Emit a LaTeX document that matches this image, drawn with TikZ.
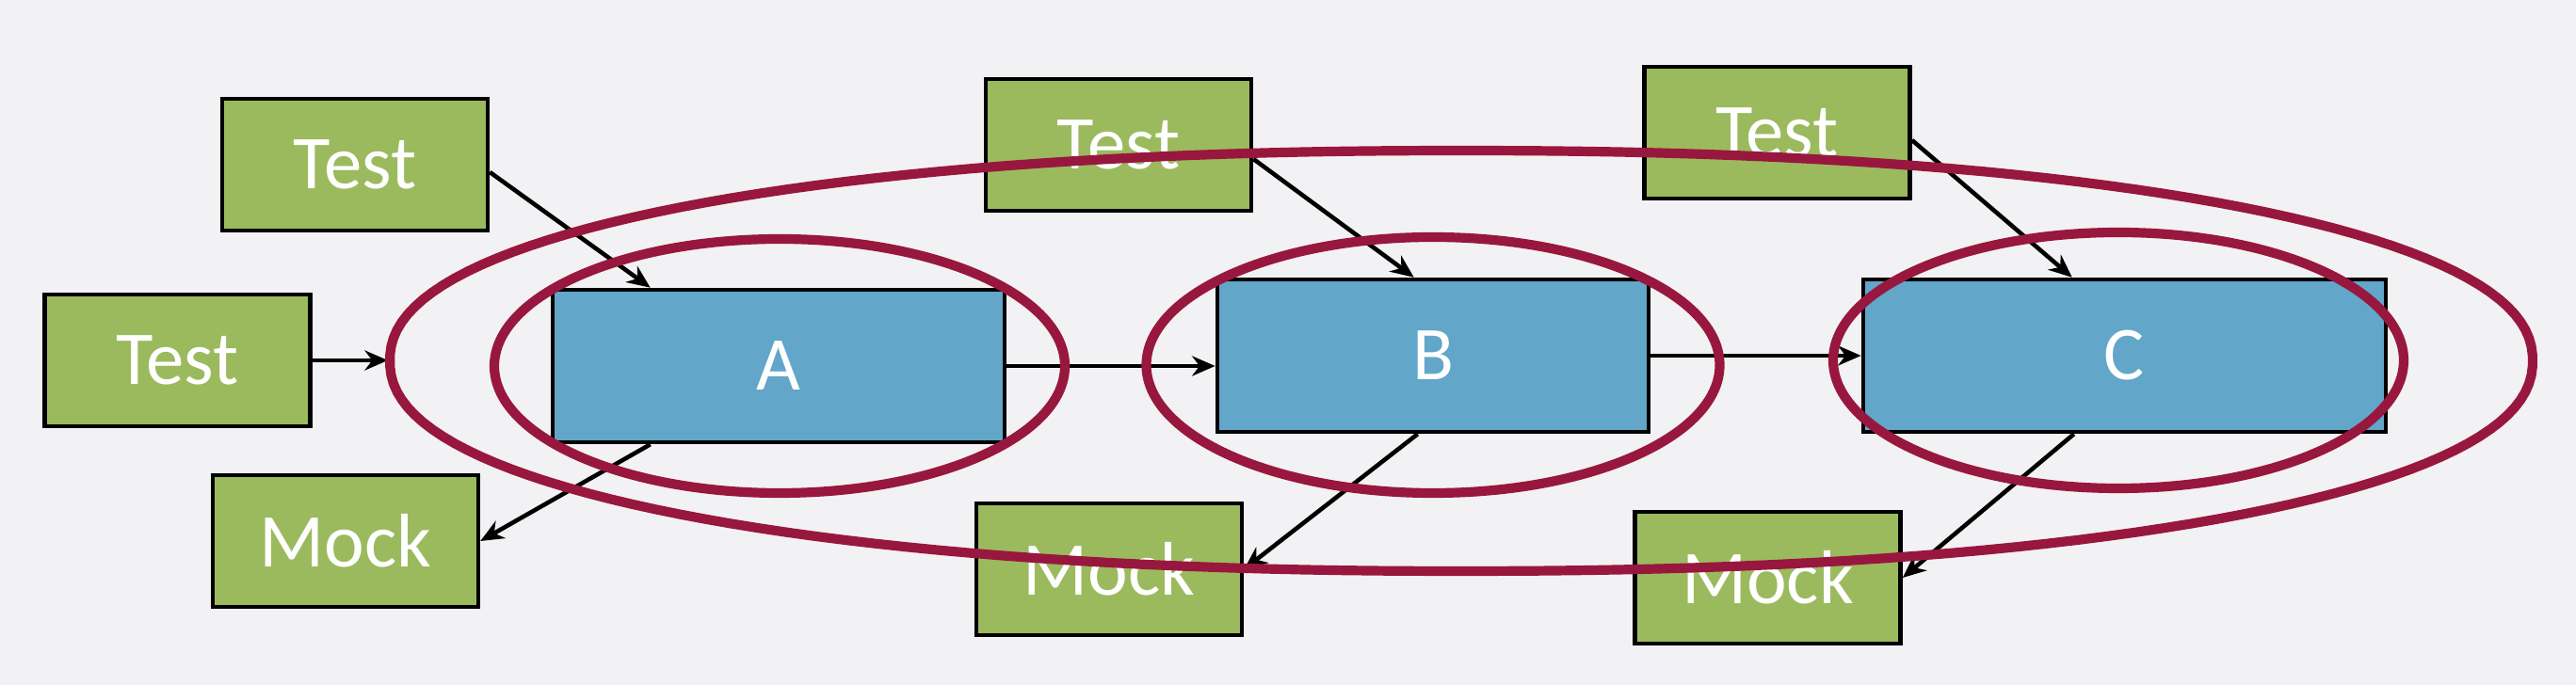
\documentclass[tikz,border=0pt]{standalone}
\usepackage{fontspec}
\setmainfont{Carlito}
\usetikzlibrary{shapes.geometric,arrows.meta}
\definecolor{slidebg}{HTML}{F2F1F3}
\definecolor{testgreen}{HTML}{9BBA5E}
\definecolor{unitblue}{HTML}{62A6C9}
\definecolor{penred}{HTML}{98173F}

\begin{document}
\begin{tikzpicture}[x=1cm,y=1cm,>={Stealth[length=7pt,width=6pt]},
  greenbox/.style={draw,line width=1.3pt,fill=testgreen,minimum width=2.82cm,minimum height=1.4cm,inner sep=0pt,text=white,font=\fontsize{23}{27}\selectfont},
  bluebox/.style={draw,line width=1.3pt,fill=unitblue,minimum height=1.62cm,inner sep=0pt,text=white,font=\fontsize{23}{27}\selectfont},
  link/.style={->,line width=1.3pt},
  ring/.style={ellipse,draw=penred,line width=2.9pt,inner sep=0pt},
  bigring/.style={draw=penred,line width=2.9pt,line join=round}]
\fill[slidebg] (0,0) rectangle (27.36,7.28);
\useasboundingbox (0,0) rectangle (27.36,7.28);

\node[greenbox] (testA1) at (3.77,5.53) {Test};
\node[greenbox] (testA2) at (1.885,3.45) {Test};
\node[greenbox] (mockA) at (3.67,1.53) {Mock};
\node[bluebox,minimum width=4.8cm] (A) at (8.27,3.39) {A};

\node[greenbox] (testB) at (11.88,5.74) {Test};
\node[greenbox] (mockB) at (11.78,1.23) {Mock};
\node[bluebox,minimum width=4.58cm] (B) at (15.22,3.5) {B};

\node[greenbox] (testC) at (18.875,5.87) {Test};
\node[greenbox] (mockC) at (18.775,1.14) {Mock};
\node[bluebox,minimum width=5.55cm] (C) at (22.565,3.5) {C};

\coordinate (entry) at (4.12,3.45);

\draw[link] (testA2.east) -- (entry);
\draw[link] ([yshift=-0.08cm]testA1.east) -- ([xshift=1.06cm]A.north west);
\draw[link] ([xshift=1.06cm]A.south west) -- (mockA.east);
\draw[link] (A.east) -- (A.east -| B.west);

\draw[link] ([yshift=-0.15cm]testB.east) -- ([xshift=2.11cm]B.north west);
\draw[link] ([xshift=2.15cm]B.south west) -- (mockB.east);
\draw[link] (B.east) -- (C.west);

\draw[link] ([yshift=-0.08cm]testC.east) -- ([xshift=2.24cm]C.north west);
\draw[link] ([xshift=2.26cm]C.south west) -- (mockC.east);

\node[ring,minimum width=6.06cm,minimum height=2.7cm] (ringA) at (8.28,3.39) {};
\node[ring,minimum width=6.09cm,minimum height=2.72cm] (ringB) at (15.22,3.4) {};
\node[ring,minimum width=6.06cm,minimum height=2.72cm] (ringC) at (22.5,3.45) {};
\draw[bigring] plot[domain=1:359,samples=180]
  ({15.52+11.38*cos(\x)*abs(cos(\x))^(-0.09)},{3.445+2.235*sin(\x)*abs(sin(\x))^(-0.09)}) -- cycle;
\end{tikzpicture}
\end{document}
